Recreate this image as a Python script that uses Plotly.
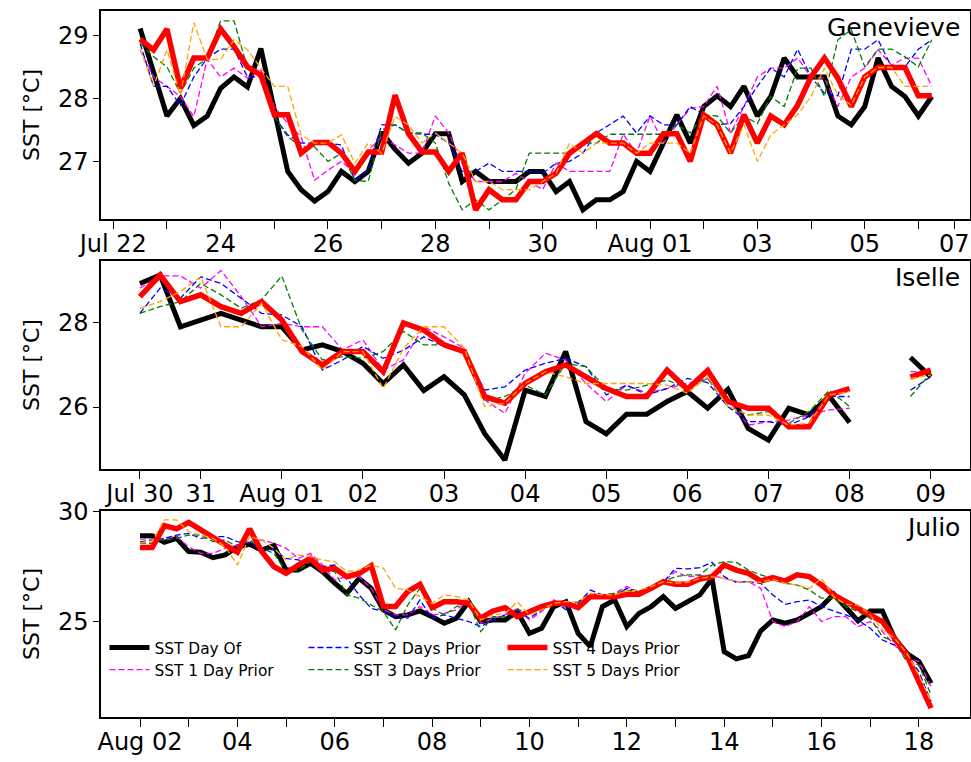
import pandas as pd
import plotly.graph_objects as go

# ---------------- Genevieve (6-hourly from Jul 22 12:00) ----------------
gen_start = "2014-07-22 12:00"
gen_day_of = [29.12, 28.41, 27.73, 28.01, 27.58, 27.73, 28.17, 28.35, 28.19, 28.80, 27.83, 26.85, 26.56, 26.38, 26.53, 26.85, 26.69, 26.85, 27.47, 27.20,
              26.98, 27.14, 27.45, 27.45, 26.69, 26.85, 26.69, 26.69, 26.69, 26.85, 26.85, 26.53, 26.69, 26.24, 26.40, 26.40, 26.53, 27.01, 26.85, 27.30, 27.75,
              27.30,
              27.88, 28.05, 27.88, 28.20, 27.73, 28.04, 28.65, 28.35, 28.35, 28.35, 27.73, 27.59, 27.88, 28.65, 28.20, 28.04, 27.73, 28.04]
gen_1day = [28.78, 28.35, 28.20, 28.04, 27.72, 28.63, 28.35, 28.49, 28.33, 28.46, 27.88, 27.61, 27.40, 26.71, 26.87, 27.01, 26.82, 27.19, 27.40, 27.27,
            27.14, 27.14, 27.73, 27.46, 26.98, 26.69, 26.69, 26.69, 26.82, 26.69, 26.56, 26.98, 26.85, 26.85, 26.85, 26.85, 27.44, 27.14, 27.73, 27.30, 27.59, 27.85,
            27.88, 28.20, 27.46, 27.88, 28.35, 28.49, 28.49, 28.65, 28.35, 28.33, 27.88, 28.35, 28.49, 28.78, 28.54, 28.65, 28.65, 28.20]
gen_2day = [28.88, 28.20, 28.20, 27.90, 28.35, 28.65, 28.79, 28.79, 28.35, 28.35, 27.72, 27.43, 27.30, 27.30, 27.30, 27.27, 26.71, 26.87, 27.59, 27.59,
            27.46, 27.44, 27.44, 27.30, 26.85, 26.85, 26.98, 26.85, 26.85, 26.85, 26.82, 26.98, 27.01, 27.14, 27.46, 27.59, 27.73, 27.46, 27.73, 27.59, 27.59, 27.88,
            27.75, 27.59, 27.61, 27.88, 28.20, 28.49, 28.35, 28.79, 28.35, 28.09, 28.05, 28.79, 28.79, 28.94, 28.51, 28.51, 28.79, 28.94]
gen_3day = [28.88, 28.67, 28.51, 28.09, 28.49, 28.65, 29.24, 29.24, 28.49, 28.35, 27.72, 27.40, 27.24, 27.24, 27.01, 27.14, 26.71, 26.69, 27.51, 27.59,
            27.46, 27.46, 27.30, 26.66, 26.24, 26.40, 26.24, 26.40, 26.56, 27.14, 27.14, 27.14, 27.14, 27.30, 27.30, 27.44, 27.44, 27.44, 27.44, 27.44, 27.59, 27.46,
            27.75, 27.73, 27.46, 27.73, 27.61, 28.04, 27.88, 28.49, 28.49, 28.04, 28.94, 29.10, 28.51, 28.79, 28.79, 28.67, 28.51, 28.94]
gen_4day = [28.95, 28.78, 29.11, 28.17, 28.65, 28.65, 29.11, 28.83, 28.51, 28.38, 27.75, 27.75, 27.14, 27.31, 27.31, 27.14, 26.85, 27.16, 27.16, 28.06,
            27.45, 27.16, 27.16, 26.85, 27.14, 26.24, 26.56, 26.40, 26.40, 26.69, 26.69, 26.82, 27.14, 27.30, 27.45, 27.30, 27.30, 27.14, 27.14, 27.45, 27.45, 27.01,
            27.75, 27.59, 27.14, 27.75, 27.30, 27.73, 27.59, 27.90, 28.35, 28.65, 28.33, 27.88, 28.35, 28.50, 28.50, 28.50, 28.05, 28.05]
gen_5day = [28.79, 28.20, 28.78, 28.06, 29.21, 28.63, 28.63, 28.94, 28.78, 28.49, 28.20, 28.20, 27.43, 27.30, 27.30, 27.43, 26.98, 27.30, 27.14, 27.72,
            27.59, 27.30, 27.46, 27.30, 27.14, 26.69, 26.69, 26.56, 26.56, 26.56, 26.69, 26.82, 27.30, 27.14, 27.30, 27.30, 27.30, 27.14, 27.30, 27.30, 27.30, 27.14,
            27.73, 27.59, 27.14, 27.59, 27.01, 27.43, 27.59, 27.75, 28.04, 28.49, 28.06, 27.90, 28.35, 28.50, 28.50, 28.20, 28.20, 28.20]
gen_tickvals = ["2014-07-22", "2014-07-23", "2014-07-24", "2014-07-25", "2014-07-26", "2014-07-27", "2014-07-28",
                "2014-07-29", "2014-07-30", "2014-07-31", "2014-08-01", "2014-08-02", "2014-08-03", "2014-08-04",
                "2014-08-05", "2014-08-06", "2014-08-06 16:00"]
gen_ticktext = ["Jul 22", "", "24", "", "26", "", "28", "", "30", "", "Aug 01", "", "03", "", "05", "", "07"]
gen_yticks = [27, 28, 29]

# ---------------- Iselle (6-hourly from Jul 30 06:00) ----------------
ise_start = "2014-07-30 06:00"
ise_day_of = [28.94, 29.14, 27.91, 28.07, 28.23, 28.07, 27.91, 27.91, 27.36, 27.48, 27.32, 27.04, 26.56, 27.00,
              26.39, 26.72, 26.29, 25.37, 24.74, 26.40, 26.25, 27.32, 25.65, 25.36, 25.83, 25.83, 26.13, 26.37,
              25.97, 26.42, 25.49, 25.21, 25.97, 25.81, 26.25, 25.63, None, None, 27.18, 26.72]
ise_1day = [28.83, 29.12, 29.12, 28.83, 29.25, 28.63, 27.91, 27.99, 27.91, 27.91, 27.36, 27.60, 26.88, 27.12,
            27.91, 27.67, 27.40, 26.17, 25.85, 26.80, 27.28, 27.12, 26.56, 26.13, 26.52, 26.33, 26.44, 26.56,
            26.68, 26.17, 25.57, 25.65, 25.69, 25.81, 25.93, 25.97, None, None, 26.84, 26.84]
ise_2day = [28.23, 28.83, 28.59, 29.10, 28.94, 28.59, 28.23, 28.19, 27.91, 26.88, 27.12, 27.44, 27.16, 27.35,
            27.67, 27.44, 27.32, 26.40, 26.48, 26.88, 27.04, 27.16, 26.96, 26.29, 26.52, 26.29, 26.44, 26.68,
            26.58, 26.01, 25.65, 25.65, 25.57, 25.77, 26.25, 26.25, None, None, 26.40, 26.72]
ise_3day = [28.23, 28.39, 28.51, 28.94, 28.67, 28.35, 28.55, 29.12, 27.83, 27.12, 27.20, 27.16, 27.32, 27.80,
            27.48, 27.48, 27.32, 26.13, 26.25, 26.52, 26.29, 27.04, 26.96, 26.44, 26.40, 26.52, 26.64, 26.44,
            26.68, 26.01, 25.81, 25.89, 25.61, 25.89, 26.40, 26.01, None, None, 26.25, 26.80]
ise_4day = [28.63, 29.14, 28.51, 28.67, 28.39, 28.23, 28.51, 28.07, 27.32, 27.00, 27.32, 27.32, 26.84, 28.00,
            27.83, 27.48, 27.32, 26.25, 26.09, 26.56, 26.84, 27.00, 26.72, 26.44, 26.25, 26.25, 26.88, 26.42,
            26.87, 26.13, 25.97, 25.97, 25.53, 25.53, 26.29, 26.44, None, None, 26.71, 26.88]
ise_5day = [28.35, 28.51, 28.75, 29.10, 27.91, 27.91, 28.47, 27.60, 27.44, 26.88, 27.32, 27.32, 26.44, 27.40,
            27.91, 27.91, 27.40, 26.01, 26.09, 26.56, 26.84, 26.72, 26.56, 26.56, 26.56, 26.56, 26.52, 26.33,
            26.72, 26.01, 25.81, 25.81, 25.57, 25.61, 26.29, 26.37, None, None, 26.68, 26.76]
ise_tickvals = ["2014-07-30 06:00", "2014-07-31", "2014-08-01", "2014-08-02", "2014-08-03", "2014-08-04",
                "2014-08-05", "2014-08-06", "2014-08-07", "2014-08-08", "2014-08-09"]
ise_ticktext = ["Jul 30", "31", "Aug 01", "02", "03", "04", "05", "06", "07", "08", "09"]
ise_yticks = [26, 28]

# ---------------- Julio (6-hourly from Aug 02 00:00) ----------------
jul_start = "2014-08-02 00:00"
jul_day_of = [28.92, 28.92, 28.62, 28.80, 28.20, 28.17, 27.92, 28.05, 28.42, 28.53, 28.27, 28.47, 27.36, 27.36, 27.67, 27.29, 26.76, 26.30, 26.98, 26.53, 25.55, 25.24,
              25.32, 25.50, 25.24, 24.94, 25.17, 25.92, 25.02, 25.09, 25.09, 25.47, 24.48, 24.71, 25.70, 25.92, 24.48, 23.88, 25.70, 26.00, 24.79, 25.39, 25.70, 26.15, 25.62, 25.92,
              26.23, 26.98, 23.65, 23.32, 23.47, 24.59, 25.09, 24.94, 25.09, 25.39, 25.70, 26.26, 25.62, 25.05, 25.50, 25.50, 24.26, 23.58, 23.20, 22.21]
jul_1day = [28.77, 28.77, 28.80, 28.88, 28.42, 28.12, 28.12, 28.35, 28.50, 28.65, 28.73, 28.58, 28.35, 27.89, 28.12, 27.59, 26.91, 27.06, 27.06, 26.53, 25.55, 25.32,
            25.32, 25.70, 25.32, 25.39, 25.55, 26.00, 24.94, 25.17, 25.32, 25.62, 25.09, 25.47, 26.00, 25.62, 25.92, 26.30, 26.23, 26.30, 26.61, 26.35, 26.61, 26.83, 27.29, 27.06,
            27.11, 27.11, 26.98, 26.83, 26.83, 26.53, 25.02, 24.79, 25.02, 25.70, 25.02, 25.24, 25.24, 24.79, 25.02, 24.56, 23.95, 23.35, 23.20, 22.06]
jul_2day = [28.58, 28.58, 28.80, 28.95, 29.03, 28.80, 28.88, 28.88, 28.65, 28.58, 28.35, 28.27, 27.89, 27.82, 27.67, 27.52, 27.59, 26.98, 26.23, 25.62, 25.47, 25.17,
            25.17, 26.00, 25.17, 25.32, 25.17, 25.02, 24.79, 25.09, 25.32, 25.47, 25.17, 25.55, 25.92, 25.55, 25.85, 26.45, 26.23, 26.15, 26.53, 26.38, 26.61, 26.80, 27.44, 27.41,
            27.47, 27.71, 27.06, 26.80, 26.83, 26.76, 26.23, 25.80, 25.92, 26.00, 25.70, 25.50, 25.32, 25.09, 24.71, 24.18, 23.95, 23.50, 22.74, 21.38]
jul_3day = [28.65, 28.73, 28.73, 28.80, 28.95, 28.95, 28.65, 28.73, 28.42, 28.73, 28.35, 28.12, 27.29, 27.36, 27.74, 27.44, 27.29, 26.23, 26.08, 25.77, 25.47, 24.64,
            25.77, 26.53, 25.62, 25.32, 25.70, 25.85, 24.56, 25.24, 25.24, 25.55, 25.47, 25.70, 25.92, 25.70, 25.92, 26.23, 26.23, 26.30, 26.45, 26.38, 26.56, 26.83, 27.06, 27.14,
            27.14, 27.59, 27.74, 27.71, 27.36, 27.14, 26.98, 26.76, 26.68, 26.45, 26.08, 26.08, 25.70, 25.47, 25.17, 24.33, 24.11, 23.20, 23.05, 21.68]
jul_4day = [28.38, 28.38, 29.38, 29.23, 29.53, 29.18, 28.88, 28.53, 28.17, 29.23, 28.20, 27.52, 27.21, 27.59, 27.89, 27.36, 27.44, 27.06, 27.21, 27.56, 25.70, 25.70,
            26.38, 26.71, 25.65, 25.92, 25.92, 25.85, 25.17, 25.50, 25.65, 25.24, 25.50, 25.70, 25.85, 25.85, 25.65, 26.15, 26.15, 26.15, 26.26, 26.26, 26.53, 26.83, 26.71, 26.71,
            26.95, 27.06, 27.59, 27.36, 27.21, 26.86, 27.02, 26.86, 27.14, 27.06, 26.68, 26.23, 25.92, 25.62, 25.39, 25.02, 24.26, 23.50, 22.29, 21.08]
jul_5day = [28.58, 28.65, 29.64, 29.64, 29.11, 28.95, 28.80, 28.42, 27.59, 28.88, 28.73, 28.35, 27.82, 28.05, 27.97, 27.82, 27.74, 27.29, 27.36, 27.59, 27.44, 26.53,
            26.45, 26.15, 25.85, 26.23, 26.15, 26.00, 25.09, 25.32, 25.39, 25.92, 25.32, 25.55, 25.85, 25.92, 25.92, 26.30, 26.23, 26.23, 26.41, 26.45, 26.61, 26.83, 26.76, 26.80,
            26.98, 27.06, 26.98, 26.83, 26.80, 26.80, 26.95, 26.76, 26.68, 26.53, 26.98, 26.15, 25.80, 25.77, 25.32, 24.64, 24.26, 23.58, 22.59, 21.38]
jul_tickvals = ["2014-08-%02d" % d for d in range(2, 19)]
jul_ticktext = ["Aug 02", "", "04", "", "06", "", "08", "", "10", "", "12", "", "14", "", "16", "", "18"]
jul_yticks = [25, 30]

series_names = ["SST Day Of", "SST 1 Day Prior", "SST 2 Days Prior",
                "SST 3 Days Prior", "SST 4 Days Prior", "SST 5 Days Prior"]

# ---------------- styling ----------------
FONT = "DejaVu Sans"
DASH = "6px,3px"
styles = [
    dict(color="black", width=5, dash="solid", legend="legend"),
    dict(color="#ff00ff", width=1.3, dash=DASH, legend="legend2"),
    dict(color="#0000ff", width=1.3, dash=DASH, legend="legend"),
    dict(color="#008000", width=1.3, dash=DASH, legend="legend2"),
    dict(color="#ff0000", width=5.5, dash="solid", legend="legend"),
    dict(color="#ffa500", width=1.3, dash=DASH, legend="legend2"),
]

panels = [
    dict(label="Genevieve", start=gen_start,
         data=[gen_day_of, gen_1day, gen_2day, gen_3day, gen_4day, gen_5day],
         tickvals=gen_tickvals, ticktext=gen_ticktext, yticks=gen_yticks,
         xrange=["2014-07-21 18:30", "2014-08-06 23:05"], yrange=[26.095, 29.397],
         domain=[0.7126, 0.9856]),
    dict(label="Iselle", start=ise_start,
         data=[ise_day_of, ise_1day, ise_2day, ise_3day, ise_4day, ise_5day],
         tickvals=ise_tickvals, ticktext=ise_ticktext, yticks=ise_yticks,
         xrange=["2014-07-29 18:30", "2014-08-09 11:38"], yrange=[24.524, 29.476],
         domain=[0.3845, 0.6575]),
    dict(label="Julio", start=jul_start,
         data=[jul_day_of, jul_1day, jul_2day, jul_3day, jul_4day, jul_5day],
         tickvals=jul_tickvals, ticktext=jul_ticktext, yticks=jul_yticks,
         xrange=["2014-08-01 04:46", "2014-08-19 01:12"], yrange=[20.68, 30.045],
         domain=[0.0591, 0.3294]),
]

fig = go.Figure()
layout = dict(
    width=971, height=762,
    margin=dict(l=101, r=1, t=0, b=0, pad=0),
    paper_bgcolor="white", plot_bgcolor="white",
    font=dict(family=FONT, color="black"),
    annotations=[],
)

for i, p in enumerate(panels):
    n = len(p["data"][0])
    times = pd.date_range(p["start"], periods=n, freq="6h")
    xa = "x" if i == 0 else "x%d" % (i + 1)
    ya = "y" if i == 0 else "y%d" % (i + 1)
    for name, vals, st in zip(series_names, p["data"], styles):
        fig.add_trace(go.Scatter(
            x=times, y=vals, mode="lines", name=name,
            line=dict(color=st["color"], width=st["width"], dash=st["dash"]),
            xaxis=xa, yaxis=ya, connectgaps=False,
            showlegend=(i == 2), legend=st["legend"],
        ))
    xkey = "xaxis" if i == 0 else "xaxis%d" % (i + 1)
    ykey = "yaxis" if i == 0 else "yaxis%d" % (i + 1)
    layout[xkey] = dict(
        type="date", domain=[0, 1], anchor=ya, range=p["xrange"],
        tickmode="array", tickvals=p["tickvals"], ticktext=p["ticktext"],
        ticks="outside", ticklen=8, tickwidth=1.3, tickcolor="black",
        showline=True, linecolor="black", linewidth=1.5, mirror=True,
        showgrid=False, zeroline=False, automargin=False,
        ticklabelstandoff=-6, ticklabeloverflow="allow",
        tickfont=dict(size=24, family=FONT, color="black"),
    )
    layout[ykey] = dict(
        domain=p["domain"], anchor=xa, range=p["yrange"],
        tickmode="array", tickvals=p["yticks"],
        ticks="outside", ticklen=6, tickwidth=1.3, tickcolor="black",
        showline=True, linecolor="black", linewidth=1.5, mirror=True,
        showgrid=False, zeroline=False, automargin=False,
        tickfont=dict(size=24, family=FONT, color="black"),
        title=dict(text="SST [°C]", font=dict(size=22, family=FONT, color="black"), standoff=12),
    )
    layout["annotations"].append(dict(
        text=p["label"], xref=xa + " domain", yref=ya + " domain",
        x=1, y=1, xanchor="right", yanchor="top", xshift=-8, yshift=0,
        showarrow=False, font=dict(size=25, family=FONT, color="black"),
    ))

leg_common = dict(orientation="h", xanchor="left", yanchor="middle",
                  bgcolor="rgba(0,0,0,0)", borderwidth=0,
                  font=dict(size=15.4, family=FONT, color="black"),
                  itemwidth=40,
                  entrywidth=144, entrywidthmode="pixels", traceorder="normal")
layout["legend"] = dict(x=0.004, y=0.1496, **leg_common)
layout["legend2"] = dict(x=0.004, y=0.1207, **leg_common)

fig.update_layout(**layout)
fig.write_html("out.html", config={"displayModeBar": False},
               post_script="document.body.style.margin='0';document.body.style.overflow='hidden';")
